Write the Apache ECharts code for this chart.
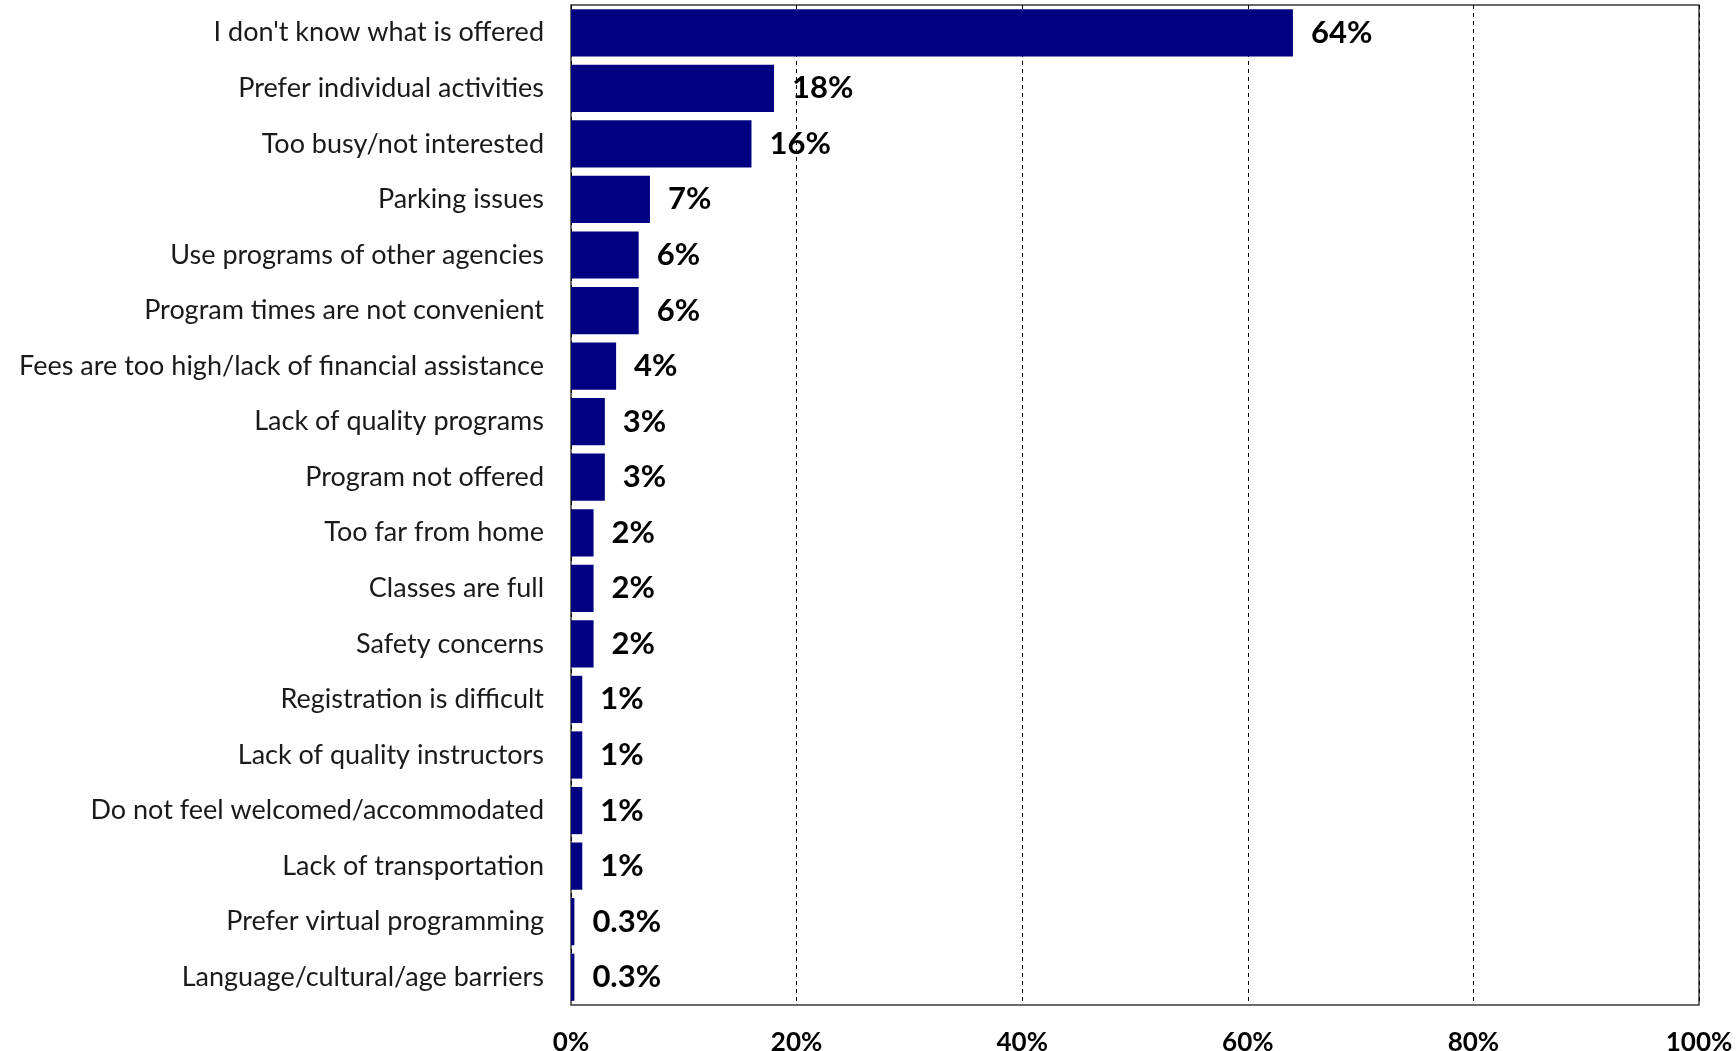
<!DOCTYPE html>
<html>
<head>
<meta charset="utf-8">
<script src="https://cdn.jsdelivr.net/npm/echarts@6/dist/echarts.min.js"></script>
<style>
  html, body { margin: 0; padding: 0; background: #fff; }
  #chart { width: 1736px; height: 1051px; }
</style>
</head>
<body>
<div id="chart"></div>
<script>
// Reasons for not using programs, listed top to bottom
const categories = [
  "I don't know what is offered",
  "Prefer individual activities",
  "Too busy/not interested",
  "Parking issues",
  "Use programs of other agencies",
  "Program times are not convenient",
  "Fees are too high/lack of financial assistance",
  "Lack of quality programs",
  "Program not offered",
  "Too far from home",
  "Classes are full",
  "Safety concerns",
  "Registration is difficult",
  "Lack of quality instructors",
  "Do not feel welcomed/accommodated",
  "Lack of transportation",
  "Prefer virtual programming",
  "Language/cultural/age barriers"
];
// Share of respondents (%)
const shares = [64, 18, 16, 7, 6, 6, 4, 3, 3, 2, 2, 2, 1, 1, 1, 1, 0.3, 0.3];
// Value-axis ticks
const axisTicks = [0, 20, 40, 60, 80, 100];

const chart = echarts.init(document.getElementById('chart'), null, { renderer: 'canvas' });

const FONT = 'Lato, "Open Sans", sans-serif';

chart.setOption({
  backgroundColor: '#ffffff',
  animation: false,
  grid: {
    left: 571, top: 5, width: 1128, height: 1000,
    show: true, borderColor: '#3a3a3a', borderWidth: 1.5,
    containLabel: false,
    outerBoundsMode: 'none'
  },
  xAxis: {
    type: 'value',
    min: axisTicks[0],
    max: axisTicks[axisTicks.length - 1],
    interval: axisTicks[1] - axisTicks[0],
    axisLine: { show: false },
    axisTick: { show: false },
    axisLabel: {
      margin: 25,
      formatter: v => v + '%',
      fontFamily: FONT, fontSize: 26, fontWeight: 'bold', color: '#000'
    },
    splitLine: {
      show: true,
      lineStyle: { color: '#000', width: 1, type: [4, 4] }
    }
  },
  yAxis: {
    type: 'category',
    data: categories,
    inverse: true,
    axisLine: { show: false },
    axisTick: { show: false },
    axisLabel: {
      margin: 27,
      fontFamily: FONT, fontSize: 27, color: '#1a1a1a'
    },
    splitLine: { show: false }
  },
  series: [{
    type: 'bar',
    data: shares,
    barWidth: '85%',
    itemStyle: { color: '#000080' },
    label: {
      show: true,
      position: 'right',
      distance: 18,
      formatter: p => p.value + '%',
      fontFamily: FONT, fontSize: 31, fontWeight: 'bold', color: '#000'
    }
  }]
});
</script>
</body>
</html>
